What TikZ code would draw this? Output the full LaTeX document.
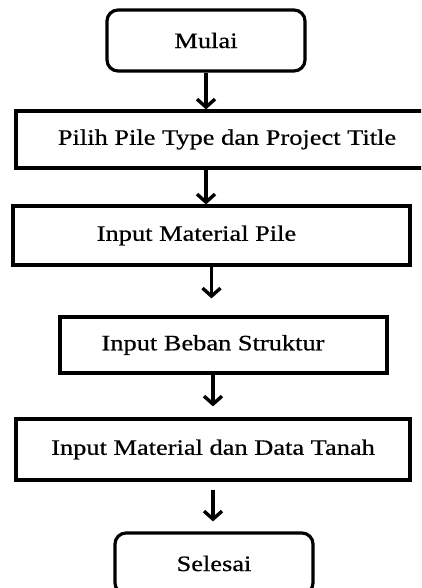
\documentclass[tikz,border=0pt]{standalone}
\usepackage{fontspec}
\setmainfont{Liberation Serif}[FakeStretch=1.2,FakeBold=0.6]
\usetikzlibrary{arrows.meta}
\begin{document}
\begin{tikzpicture}[x=1pt,y=-1pt,
  font=\fontsize{22}{26}\selectfont,
  box/.style={draw, line width=3.2pt, inner sep=0pt},
  term/.style={box, rounded corners=11pt, minimum width=198pt, minimum height=61pt},
  arr/.style={line width=3.2pt, -{Straight Barb[length=8pt,width=18pt,line width=3.4pt]}}]
\useasboundingbox (0,0) rectangle (421,588);
\clip (0,0) rectangle (421,588);
\fill[white] (0,0) rectangle (421,588);
\node[term] (mulai) at (206,40.5) {Mulai};
\node[box, minimum width=422pt, minimum height=57pt] (pilih) at (227,139.5) {Pilih Pile Type dan Project Title};
\node[box, minimum width=397pt, minimum height=59pt, label={[xshift=-15pt]center:Input Material Pile}] (matpile) at (211.5,235.5) {};
\node[box, minimum width=327pt, minimum height=56pt, label={[xshift=-10.5pt]center:Input Beban Struktur}] (beban) at (223.5,345) {};
\node[box, minimum width=394pt, minimum height=61pt] (tanah) at (213,449.5) {Input Material dan Data Tanah};
\node[term] (selesai) at (214,563.5) {Selesai};
\draw[arr] (mulai.south) -- (mulai.south |- pilih.north);
\draw[arr] (pilih.south -| mulai.south) -- (mulai.south |- matpile.north);
\draw[arr, shorten >=17pt] (matpile.south) -- (matpile.south |- beban.north);
\draw[arr, shorten >=11pt] (tanah.north |- beban.south) -- (tanah.north);
\draw[arr, shorten <=8pt, shorten >=10pt] (tanah.south) -- (tanah.south |- selesai.north);
\end{tikzpicture}
\end{document}
